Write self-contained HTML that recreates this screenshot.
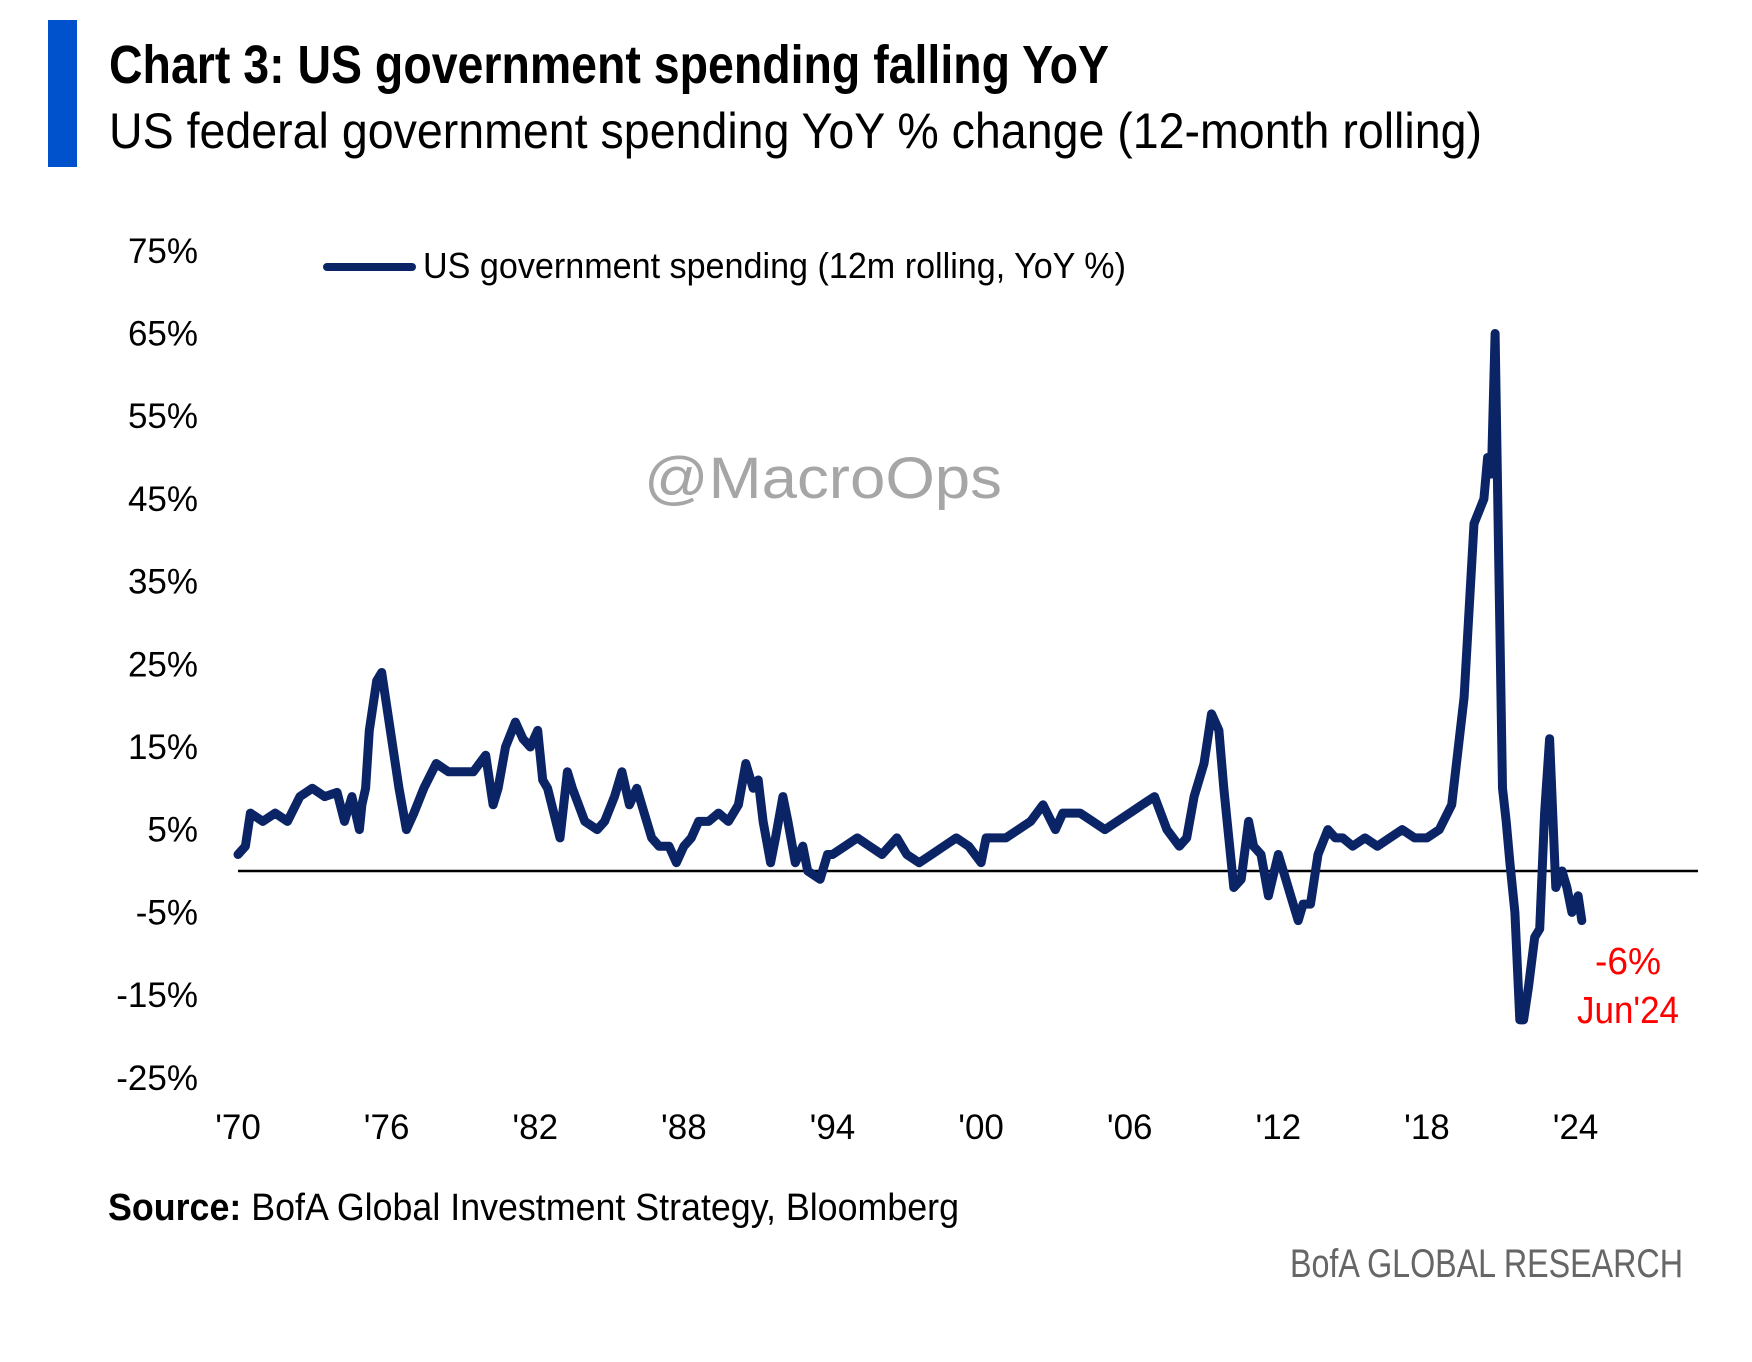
<!DOCTYPE html>
<html><head><meta charset="utf-8"><style>
html,body{margin:0;padding:0;background:#fff;}
svg{display:block;font-family:"Liberation Sans Narrow","Liberation Sans",sans-serif;}
</style></head><body>
<svg id="chart" width="1752" height="1362" viewBox="0 0 1752 1362">
<rect x="48" y="20" width="29" height="147" fill="#0052cc"/>
<text x="109" y="83" font-size="54" font-weight="bold" textLength="1000" lengthAdjust="spacingAndGlyphs" fill="#000">Chart 3: US government spending falling YoY</text>
<text x="109" y="148" font-size="50" textLength="1373" lengthAdjust="spacingAndGlyphs" fill="#000">US federal government spending YoY % change (12-month rolling)</text>
<text x="823" y="498" font-size="58" fill="#a6a6a6" text-anchor="middle" textLength="358" lengthAdjust="spacingAndGlyphs" font-family="Liberation Sans, sans-serif">@MacroOps</text>
<line x1="327" y1="267" x2="412" y2="267" stroke="#0a2466" stroke-width="8" stroke-linecap="round"/>
<text x="423" y="278" font-size="36" textLength="703" lengthAdjust="spacingAndGlyphs" fill="#000">US government spending (12m rolling, YoY %)</text>
<g id="yaxis"></g>
<g id="xaxis"></g>
<line id="zero" x1="238" x2="1698" stroke="#000" stroke-width="2.5"/>
<path id="series" fill="none" stroke="#0a2466" stroke-width="9" stroke-linejoin="round" stroke-linecap="round"/>
<text x="1628" y="974" font-size="38" fill="#ff0000" text-anchor="middle" textLength="66" lengthAdjust="spacingAndGlyphs">-6%</text>
<text x="1628" y="1023" font-size="38" fill="#ff0000" text-anchor="middle" textLength="102" lengthAdjust="spacingAndGlyphs">Jun'24</text>
<text x="108" y="1220" font-size="38" fill="#000" textLength="851" lengthAdjust="spacingAndGlyphs"><tspan font-weight="bold">Source:</tspan> BofA Global Investment Strategy, Bloomberg</text>
<text x="1683" y="1277" font-size="40" fill="#666" text-anchor="end" textLength="393" lengthAdjust="spacingAndGlyphs">BofA GLOBAL RESEARCH</text>
</svg>
<script>
const yTicks = [75, 65, 55, 45, 35, 25, 15, 5, -5, -15, -25];
const xTickYears = [1970, 1976, 1982, 1988, 1994, 2000, 2006, 2012, 2018, 2024];
const xTickLabels = ["'70", "'76", "'82", "'88", "'94", "'00", "'06", "'12", "'18", "'24"];
const dates = [1970,1970.3,1970.5,1971,1971.5,1972,1972.5,1973,1973.5,1974,1974.3,1974.6,1974.9,1975.0,1975.15,1975.3,1975.6,1975.8,1976.1,1976.5,1976.8,1977.1,1977.5,1978,1978.5,1979,1979.5,1980,1980.3,1980.5,1980.8,1981.2,1981.5,1981.8,1982.1,1982.3,1982.5,1983,1983.3,1983.5,1984,1984.5,1984.8,1985.2,1985.5,1985.8,1986.1,1986.4,1986.7,1987,1987.4,1987.7,1988,1988.3,1988.6,1989,1989.4,1989.8,1990.2,1990.5,1990.8,1991,1991.2,1991.5,1991.7,1992,1992.2,1992.5,1992.8,1993,1993.5,1993.8,1994,1994.5,1995,1995.5,1996,1996.3,1996.6,1997,1997.5,1998,1998.5,1999,1999.5,2000,2000.2,2000.5,2001,2001.5,2002,2002.5,2003,2003.3,2003.6,2004,2004.5,2005,2005.5,2006,2006.5,2007,2007.5,2008,2008.3,2008.6,2009,2009.3,2009.6,2009.8,2010,2010.2,2010.5,2010.8,2011,2011.3,2011.6,2012,2012.3,2012.5,2012.8,2013,2013.3,2013.6,2014,2014.3,2014.6,2015,2015.5,2016,2016.5,2017,2017.5,2018,2018.5,2019,2019.5,2019.9,2020.3,2020.45,2020.6,2020.75,2020.9,2021.05,2021.2,2021.35,2021.55,2021.75,2021.9,2022.1,2022.35,2022.55,2022.75,2022.95,2023.2,2023.45,2023.65,2023.85,2024.1,2024.25,2024.35,2024.45];
const values = [2,3,7,6,7,6,9,10,9,9.5,6,9,5,8,10,17,23,24,18,10,5,7,10,13,12,12,12,14,8,10,15,18,16,15,17,11,10,4,12,10,6,5,6,9,12,8,10,7,4,3,3,1,3,4,6,6,7,6,8,13,10,11,6,1,4,9,6,1,3,0,-1,2,2,3,4,3,2,3,4,2,1,2,3,4,3,1,4,4,4,5,6,8,5,7,7,7,6,5,6,7,8,9,5,3,4,9,13,19,17,10,4,-2,-1,6,3,2,-3,2,-1,-3,-6,-4,-4,2,5,4,4,3,4,3,4,5,4,4,5,8,21,42,45,50,48,65,37,10,6,1,-5,-18,-18,-14,-8,-7,7,16,-2,0,-2,-5,-3,-6];

const X0 = 238, PX_PER_YEAR = 24.77, Y_ZERO = 871, PX_PER_PCT = 8.27;
function xScale(year){ return X0 + (year - 1970) * PX_PER_YEAR; }
function yScale(v){ return Y_ZERO - v * PX_PER_PCT; }
const NS = "http://www.w3.org/2000/svg";

const ya = document.getElementById('yaxis');
yTicks.forEach(function(t){
  const el = document.createElementNS(NS, 'text');
  el.setAttribute('x', 198);
  el.setAttribute('y', yScale(t) + 12);
  el.setAttribute('font-size', '35');
  el.setAttribute('text-anchor', 'end');
  el.textContent = t + '%';
  
  
  ya.appendChild(el);
});
const xa = document.getElementById('xaxis');
xTickYears.forEach(function(yr, i){
  const el = document.createElementNS(NS, 'text');
  el.setAttribute('x', xScale(yr));
  el.setAttribute('y', 1139);
  el.setAttribute('font-size', '35');
  el.setAttribute('text-anchor', 'middle');
  el.textContent = xTickLabels[i];
  
  
  xa.appendChild(el);
});
const z = document.getElementById('zero');
z.setAttribute('y1', yScale(0));
z.setAttribute('y2', yScale(0));
let d = '';
dates.forEach(function(yr, i){
  d += (i ? 'L' : 'M') + xScale(yr).toFixed(1) + ',' + yScale(values[i]).toFixed(1);
});
document.getElementById('series').setAttribute('d', d);
</script>
</body></html>
